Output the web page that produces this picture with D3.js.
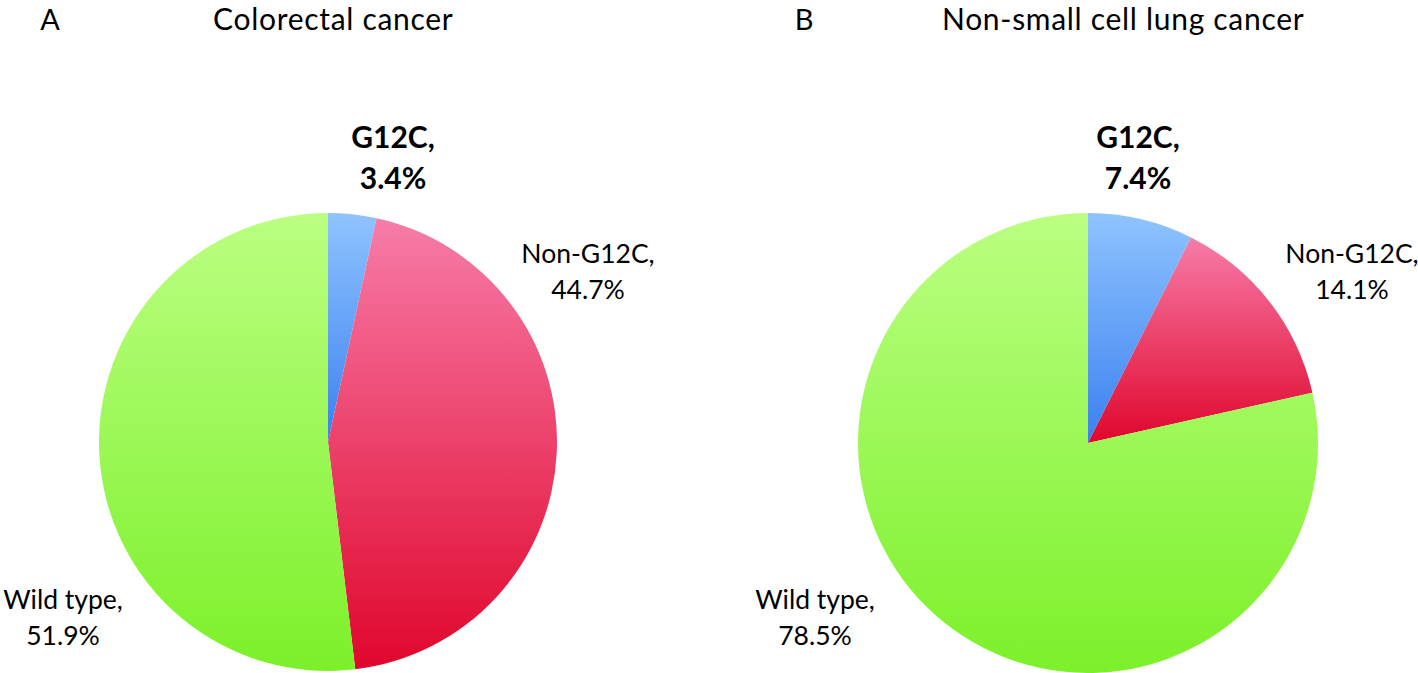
<!DOCTYPE html>
<html><head><meta charset="utf-8">
<script src="https://cdn.jsdelivr.net/npm/d3@7"></script>
<style>html,body{margin:0;padding:0;background:#fff;}svg{display:block;}</style>
</head><body>
<svg id="c" width="1418" height="673"></svg>
<script>
const categories = ["G12C", "Non-G12C", "Wild type"];
const crcValues = [3.4, 44.7, 51.9];
const nsclcValues = [7.4, 14.1, 78.5];
const panelLetters = ["A", "B"];
const panelTitles = ["Colorectal cancer", "Non-small cell lung cancer"];
const gradTop = ["#90c4ff", "#f77ca8", "#bbff82"];
const gradBottom = ["#3a80f0", "#e0062c", "#7cf02a"];

const svg = d3.select("#c");
const FONT = "Lato, 'Open Sans', sans-serif";
const defs = svg.append("defs");
categories.forEach((c, i) => {
  const g = defs.append("linearGradient").attr("id", "g" + i)
    .attr("x1", 0).attr("y1", 0).attr("x2", 0).attr("y2", 1);
  g.append("stop").attr("offset", 0).attr("stop-color", gradTop[i]);
  g.append("stop").attr("offset", 1).attr("stop-color", gradBottom[i]);
});

const panels = [
  {values: crcValues, cx: 328, cy: 442, r: 229, letterX: 50, titleX: 213,
   labels: [{x: 393, y: 148, bold: true}, {x: 588, y: 263}, {x: 63, y: 609}]},
  {values: nsclcValues, cx: 1088, cy: 443, r: 230, letterX: 804, titleX: 942,
   labels: [{x: 1138, y: 148, bold: true}, {x: 1352, y: 263}, {x: 815, y: 609}]}
];

const pie = d3.pie().sort(null).value(d => d);
panels.forEach((p, pi) => {
  svg.append("text").attr("x", p.letterX).attr("y", 30).attr("text-anchor", "middle")
    .attr("font-family", FONT).attr("font-size", 29).text(panelLetters[pi]);
  svg.append("text").attr("x", p.titleX).attr("y", 30)
    .attr("font-family", FONT).attr("font-size", 30).attr("letter-spacing", 0.7).text(panelTitles[pi]);
  const arc = d3.arc().innerRadius(0).outerRadius(p.r);
  const g = svg.append("g").attr("transform", `translate(${p.cx},${p.cy})`);
  g.selectAll("path").data(pie(p.values)).join("path")
    .attr("d", arc).attr("fill", (d, i) => `url(#g${i})`);
  p.values.forEach((v, i) => {
    const L = p.labels[i];
    const t = svg.append("text").attr("text-anchor", "middle")
      .attr("font-family", FONT).attr("font-size", L.bold ? 30 : 26.5)
      .attr("font-weight", L.bold ? 700 : 400).attr("fill", "#000");
    t.append("tspan").attr("x", L.x).attr("y", L.y).text(categories[i] + ",");
    t.append("tspan").attr("x", L.x).attr("y", L.y + (L.bold ? 41 : 36)).text(v.toFixed(1) + "%");
  });
});
</script>
</body></html>
